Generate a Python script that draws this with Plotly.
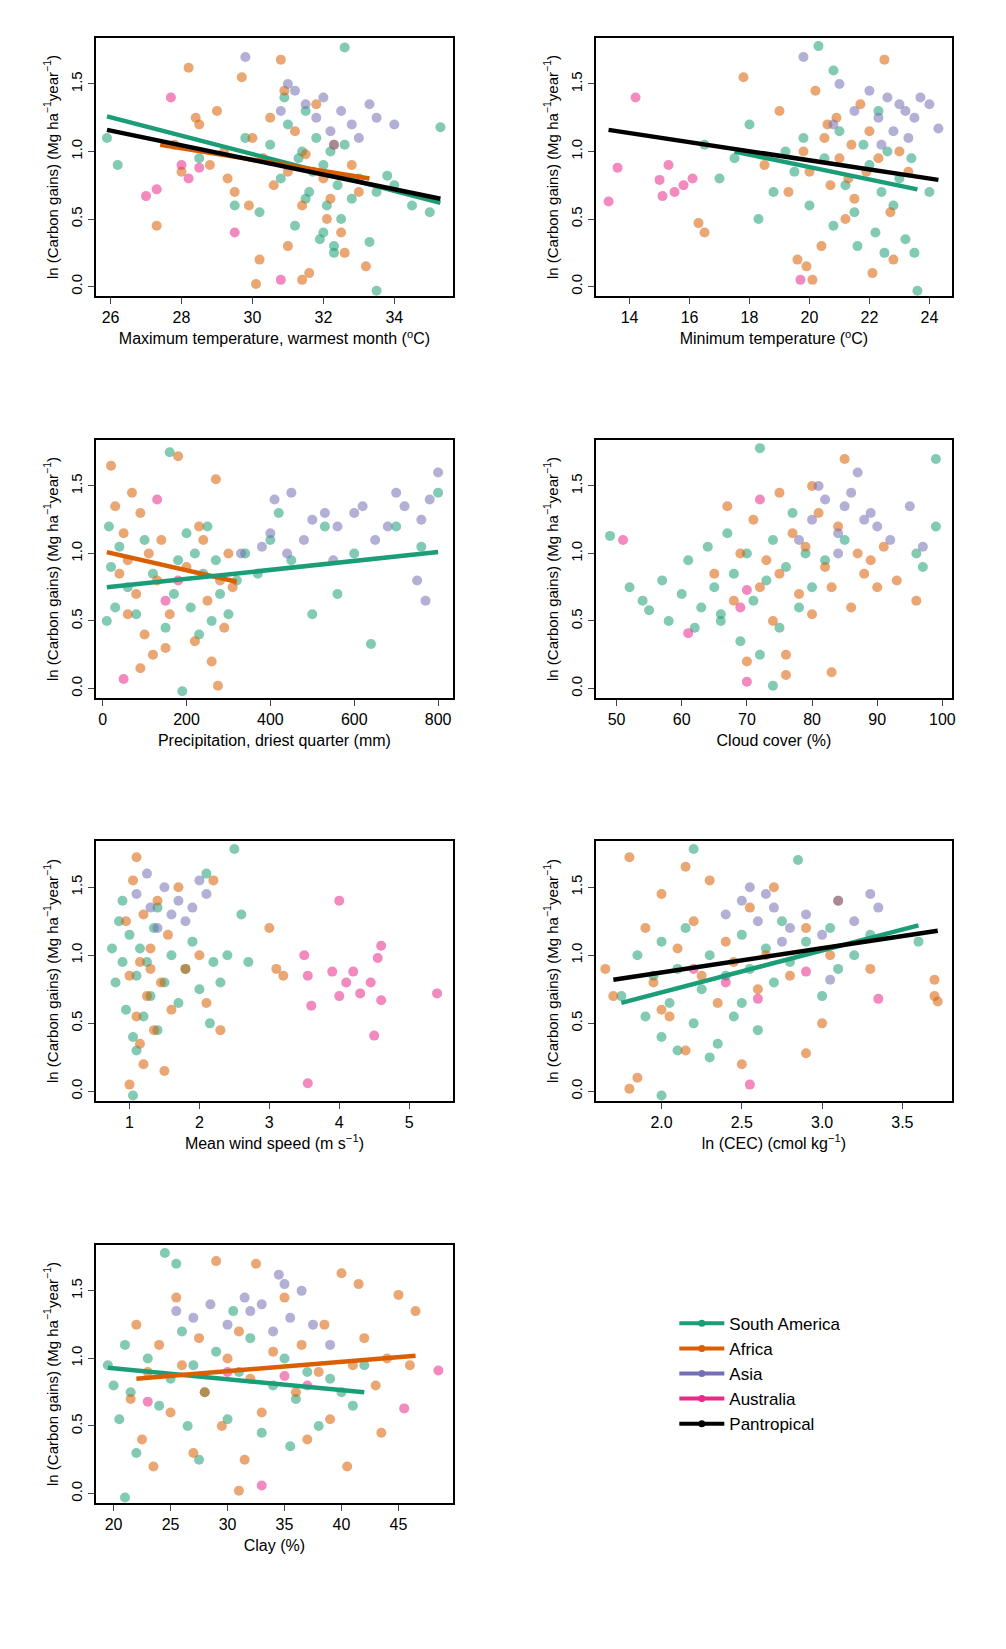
import plotly.graph_objects as go

# colours per region
COLS = {"South America": "#1B9E77", "Africa": "#D95F02", "Asia": "#7570B3",
        "Australia": "#E7298A", "Pantropical": "#000000"}

# ---- panel 1 : max temperature ----
p1_sa = [(25.9,1.10),(26.2,0.90),(28.5,0.95),(29.5,0.60),(30.2,0.55),(30.5,1.05),(30.8,0.80),(31.0,1.20),(31.2,0.45),(31.3,0.95),
         (31.5,1.30),(31.6,0.70),(31.8,1.10),(31.9,0.35),(32.0,0.90),(32.1,0.60),(32.2,1.00),(32.3,0.25),(32.4,0.75),(32.5,0.50),
         (32.6,1.05),(32.8,0.65),(33.0,0.80),(33.5,0.70),(34.0,0.75),(34.5,0.60),(35.0,0.55),(35.3,1.18),(31.4,1.00),(31.7,0.85),
         (32.0,0.40),(32.3,0.30),(29.8,1.10),(30.9,1.40),(33.8,0.82),(32.6,1.77),(31.5,0.65),(33.3,0.33),(33.5,-0.03)]
p1_af = [(27.3,0.45),(27.8,1.05),(28.0,0.85),(28.2,1.62),(28.5,1.20),(28.8,0.90),(29.0,1.30),(29.2,1.00),(29.5,0.70),(29.7,1.55),
         (30.0,1.10),(30.2,0.20),(30.3,0.95),(30.5,1.25),(30.6,0.75),(30.8,1.68),(31.0,0.85),(31.0,0.30),(31.2,1.15),(31.4,0.60),
         (31.5,0.98),(31.6,0.10),(31.8,1.35),(32.0,0.80),(32.1,0.50),(32.3,1.05),(32.5,0.40),(32.6,0.25),(32.8,0.90),(33.0,0.70),
         (33.2,0.15),(30.1,0.02),(31.4,0.05),(29.3,0.80),(28.4,1.25),(30.9,1.45),(29.9,0.60),(32.2,0.65)]
p1_as = [(30.8,1.30),(31.2,1.45),(31.5,1.35),(31.8,1.25),(32.0,1.40),(32.2,1.15),(32.5,1.30),(32.8,1.20),(33.0,1.10),(33.5,1.25),
         (34.0,1.20),(31.0,1.50),(32.3,1.05),(33.3,1.35),(29.8,1.70)]
p1_au = [(27.0,0.67),(27.3,0.72),(28.2,0.80),(28.5,0.88),(27.7,1.40),(29.5,0.40),(28.0,0.90),(30.8,0.05)]
p1_fit = {"South America": [(25.9,1.26),(35.3,0.62)], "Africa": [(27.4,1.05),(33.3,0.80)],
          "Pantropical": [(25.9,1.16),(35.3,0.65)]}

# ---- panel 2 : min temperature ----
p2_sa = [(16.5,1.05),(17.0,0.80),(17.5,0.95),(18.0,1.20),(18.3,0.50),(18.8,0.70),(19.2,1.00),(19.5,0.85),(19.8,1.10),(20.0,0.60),
         (20.3,1.78),(20.5,0.95),(20.8,0.45),(21.0,1.15),(21.2,0.75),(21.5,0.55),(21.8,1.05),(22.0,0.90),(22.2,0.40),(22.4,0.70),
         (22.5,0.25),(22.6,1.00),(22.8,0.60),(23.0,0.80),(23.2,0.35),(23.4,0.95),(23.5,0.25),(23.6,-0.03),(24.0,0.70),(22.3,1.30),
         (20.8,1.60),(21.6,0.30)]
p2_af = [(17.8,1.55),(18.5,0.90),(19.0,1.30),(19.3,0.70),(19.6,0.20),(19.8,1.00),(20.0,0.85),(20.2,1.45),(20.4,0.30),(20.5,1.10),
         (20.7,0.75),(20.9,1.25),(21.0,0.95),(21.2,0.50),(21.4,1.05),(21.5,0.65),(21.7,1.35),(21.9,0.85),(22.0,1.15),(22.1,0.10),
         (22.3,0.95),(22.5,1.68),(22.7,0.55),(22.8,0.20),(23.0,1.00),(23.3,0.85),(20.1,0.05),(19.9,0.15),(21.3,0.80),(20.6,1.20),
         (16.3,0.47),(16.5,0.40)]
p2_as = [(20.8,1.20),(21.5,1.30),(22.0,1.45),(22.3,1.25),(22.6,1.40),(22.8,1.15),(23.0,1.35),(23.2,1.30),(23.5,1.25),(23.7,1.40),
         (24.0,1.35),(24.3,1.17),(21.0,1.50),(19.8,1.70),(23.3,1.10),(22.4,1.05)]
p2_au = [(13.3,0.63),(13.6,0.88),(14.2,1.40),(15.0,0.79),(15.3,0.90),(15.5,0.70),(15.8,0.75),(15.1,0.67),(19.7,0.05),(16.1,0.80)]
p2_fit = {"South America": [(17.5,1.00),(23.6,0.72)], "Pantropical": [(13.3,1.16),(24.3,0.79)]}

# ---- panel 3 : precipitation driest quarter ----
p3_sa = [(10,0.50),(15,1.20),(20,0.90),(30,0.60),(40,1.05),(60,0.75),(80,0.55),(100,1.10),(120,0.85),(150,0.45),
         (160,1.75),(170,0.70),(180,0.95),(200,1.15),(210,0.60),(230,0.40),(240,0.85),(250,1.20),(260,0.50),(270,0.95),
         (280,0.70),(300,0.55),(320,0.80),(340,1.00),(370,0.85),(400,1.10),(450,0.95),(500,0.55),(530,1.20),(560,0.70),
         (600,1.00),(640,0.33),(700,1.20),(760,1.05),(800,1.45),(420,1.30),(190,-0.02),(220,1.00)]
p3_af = [(20,1.65),(30,1.35),(40,0.85),(50,1.15),(60,0.95),(70,1.45),(80,0.70),(90,1.30),(100,0.40),(110,1.00),
         (120,0.25),(130,0.80),(140,1.10),(160,0.55),(180,1.72),(200,0.90),(220,0.35),(240,1.10),(250,0.65),(260,0.20),
         (270,1.55),(280,0.80),(290,0.45),(300,1.00),(310,0.75),(275,0.02),(90,0.15),(150,0.30),(230,1.20),(60,0.55)]
p3_as = [(330,1.00),(380,1.05),(400,1.15),(410,1.40),(450,1.45),(480,1.10),(500,1.25),(530,1.30),(560,1.20),(600,1.30),
         (620,1.35),(650,1.10),(680,1.20),(700,1.45),(720,1.35),(750,0.80),(760,1.25),(780,1.40),(800,1.60),(770,0.65),
         (550,0.95),(440,1.00)]
p3_au = [(50,0.07),(150,0.65),(130,1.40),(180,0.80)]
p3_fit = {"Africa": [(10,1.01),(320,0.79)], "South America": [(10,0.75),(800,1.01)]}

# ---- panel 4 : cloud cover ----
p4_sa = [(49,1.13),(52,0.75),(54,0.65),(55,0.58),(57,0.80),(58,0.50),(60,0.70),(61,0.95),(62,0.45),(63,0.60),
         (64,1.05),(65,0.75),(66,0.55),(67,1.15),(68,0.85),(69,0.35),(70,1.00),(71,0.65),(72,0.25),(72,1.78),
         (73,0.80),(74,1.10),(75,0.45),(76,0.90),(77,1.30),(78,0.60),(79,1.00),(80,0.75),(82,0.95),(85,1.10),
         (96,1.00),(97,0.90),(99,1.20),(99,1.70),(74,0.02),(66,0.50)]
p4_af = [(65,0.85),(67,1.35),(68,0.65),(69,1.00),(70,0.20),(71,1.25),(72,0.75),(73,0.95),(74,0.50),(75,1.45),
         (75,0.85),(76,0.25),(77,1.15),(78,0.70),(79,1.05),(80,0.55),(81,1.30),(82,0.90),(83,0.75),(84,1.20),
         (85,1.70),(86,0.60),(87,1.00),(88,0.85),(90,0.75),(91,1.05),(93,0.80),(96,0.65),(83,0.12),(76,0.10),
         (80,1.50),(89,0.95)]
p4_as = [(78,1.10),(80,1.25),(82,1.40),(84,1.15),(85,1.35),(86,1.45),(88,1.25),(89,1.30),(90,1.20),(92,1.10),
         (95,1.35),(97,1.05),(81,1.50),(87,1.60),(84,1.00)]
p4_au = [(51,1.10),(61,0.41),(70,0.73),(70,0.05),(72,1.40),(69,0.60)]

# ---- panel 5 : wind speed ----
p5_sa = [(0.75,1.05),(0.8,0.80),(0.85,1.25),(0.9,0.95),(0.95,0.60),(1.0,1.15),(1.05,0.40),(1.1,0.85),(1.1,0.30),(1.15,1.05),
         (1.2,0.55),(1.25,0.95),(1.3,0.70),(1.35,1.20),(1.4,0.45),(1.5,0.80),(1.6,1.00),(1.7,0.65),(1.8,0.90),(1.9,1.10),
         (2.0,0.75),(2.1,1.60),(2.15,0.50),(2.2,0.95),(2.3,0.80),(2.4,1.00),(2.5,1.78),(2.6,1.30),(2.7,0.95),(1.05,-0.03),
         (1.4,1.35),(0.9,1.40)]
p5_af = [(0.95,1.25),(1.0,0.85),(1.05,1.55),(1.1,0.55),(1.1,1.72),(1.15,0.95),(1.2,0.20),(1.2,1.30),(1.25,0.70),(1.3,1.05),
         (1.35,0.45),(1.4,1.40),(1.45,0.80),(1.5,0.15),(1.55,1.15),(1.6,0.60),(1.7,1.50),(1.8,0.90),(2.0,1.00),(2.1,0.65),
         (2.2,1.55),(2.3,0.45),(1.0,0.05),(1.15,0.35),(3.0,1.20),(3.1,0.90),(3.2,0.85),(1.3,0.90)]
p5_as = [(1.1,1.45),(1.3,1.35),(1.5,1.50),(1.6,1.30),(1.7,1.40),(1.8,1.25),(1.9,1.35),(2.0,1.55),(2.1,1.45),(1.4,1.20),(1.25,1.60)]
p5_au = [(3.5,1.00),(3.55,0.85),(3.6,0.63),(3.9,0.88),(4.0,0.70),(4.0,1.40),(4.1,0.80),(4.3,0.72),(4.45,0.80),(4.5,0.41),
         (4.55,0.98),(4.6,0.67),(4.6,1.07),(5.4,0.72),(3.55,0.06),(4.2,0.88)]

# ---- panel 6 : ln(CEC) ----
p6_sa = [(1.75,0.70),(1.85,1.00),(1.9,0.55),(1.95,0.85),(2.0,0.40),(2.0,1.10),(2.05,0.65),(2.1,0.30),(2.1,0.90),(2.15,1.20),
         (2.2,0.50),(2.25,0.75),(2.3,1.00),(2.35,0.35),(2.4,0.85),(2.45,0.55),(2.5,1.15),(2.5,0.65),(2.55,0.90),(2.6,0.45),
         (2.65,1.05),(2.7,0.80),(2.75,1.25),(2.8,0.95),(2.9,1.10),(3.0,0.70),(3.05,1.20),(3.1,0.90),(3.2,1.00),(3.3,1.15),
         (3.6,1.10),(2.0,-0.03),(2.2,1.78),(2.85,1.70),(2.3,0.25)]
p6_af = [(1.65,0.90),(1.7,0.70),(1.8,1.72),(1.85,0.10),(1.9,1.20),(1.95,0.80),(2.0,1.45),(2.05,0.55),(2.1,1.05),(2.15,0.30),
         (2.2,1.25),(2.25,0.85),(2.3,1.55),(2.35,0.65),(2.4,1.10),(2.45,0.95),(2.5,0.20),(2.55,1.35),(2.6,0.75),(2.65,1.00),
         (2.7,1.50),(2.8,0.85),(2.9,1.20),(3.0,0.50),(3.05,1.00),(3.1,1.40),(3.3,0.90),(3.7,0.82),(3.7,0.70),(3.72,0.66),
         (1.8,0.02),(2.15,1.65),(2.0,0.60),(2.9,0.28)]
p6_as = [(2.4,1.30),(2.5,1.40),(2.6,1.25),(2.65,1.45),(2.7,1.35),(2.8,1.20),(2.9,1.30),(3.0,1.15),(3.05,0.82),(3.1,1.40),
         (3.2,1.25),(3.3,1.45),(3.35,1.35),(2.75,1.10),(2.55,1.50)]
p6_au = [(2.6,0.68),(2.55,0.05),(2.9,0.88),(3.35,0.68),(2.2,0.90),(2.4,0.80)]
p6_fit = {"South America": [(1.75,0.65),(3.6,1.22)], "Pantropical": [(1.7,0.82),(3.72,1.18)]}

# ---- panel 7 : clay ----
p7_sa = [(19.5,0.95),(20,0.80),(20.5,0.55),(21,1.10),(21,-0.03),(21.5,0.75),(22,0.30),(23,1.00),(24,0.65),(24.5,1.78),
         (25,0.85),(26,1.20),(26.5,0.50),(27,0.95),(27.5,0.25),(28,0.75),(29,1.05),(30,0.55),(31,0.90),(32,1.15),
         (33,0.45),(34,0.80),(35,1.00),(35.5,0.35),(36,0.70),(37,0.90),(38,0.50),(39,0.85),(40,0.75),(41,0.65),
         (42,0.95),(25.5,1.70),(30.5,1.35)]
p7_af = [(21.5,0.70),(22,1.25),(22.5,0.40),(23,0.90),(23.5,0.20),(24,1.10),(25,0.60),(25.5,1.45),(26,0.95),(27,0.30),
         (27.5,1.15),(28,0.75),(29,1.72),(29.5,0.50),(30,1.00),(31,1.20),(31.5,0.25),(32,0.85),(32.5,1.70),(33,0.60),
         (34,1.05),(35,1.45),(36,0.75),(36.5,1.10),(37,0.40),(38,0.90),(38.5,1.25),(39,0.55),(40,1.63),(40.5,0.20),
         (41,0.95),(41.5,1.55),(42,1.15),(43,0.80),(44,1.00),(45,1.47),(46,0.95),(46.5,1.35),(43.5,0.45),(31,0.02)]
p7_as = [(25.5,1.35),(27,1.30),(28.5,1.40),(30,1.25),(31.5,1.45),(32,1.35),(33,1.40),(34,1.20),(35,1.55),(35.5,1.30),
         (36.5,1.50),(37.5,1.25),(39,1.10),(34.5,1.62)]
p7_au = [(23,0.68),(33,0.06),(35,0.87),(37,0.80),(45.5,0.63),(48.5,0.91),(30,0.90)]
p7_fit = {"South America": [(19.5,0.93),(42,0.75)], "Africa": [(22,0.85),(46.5,1.02)]}

panels = [
    (p1_sa, p1_af, p1_as, p1_au, p1_fit, "Maximum temperature, warmest month (<sup>o</sup>C)", [25.58, 35.66], [26, 28, 30, 32, 34]),
    (p2_sa, p2_af, p2_as, p2_au, p2_fit, "Minimum temperature (<sup>o</sup>C)", [12.87, 24.76], [14, 16, 18, 20, 22, 24]),
    (p3_sa, p3_af, p3_as, p3_au, p3_fit, "Precipitation, driest quarter (mm)", [-16.6, 836], [0, 200, 400, 600, 800]),
    (p4_sa, p4_af, p4_as, p4_au, {}, "Cloud cover (%)", [46.8, 101.5], [50, 60, 70, 80, 90, 100]),
    (p5_sa, p5_af, p5_as, p5_au, {}, "Mean wind speed (m s<sup>−1</sup>)", [0.516, 5.63], [1, 2, 3, 4, 5]),
    (p6_sa, p6_af, p6_as, p6_au, p6_fit, "ln (CEC) (cmol kg<sup>−1</sup>)", [1.59, 3.81], [2.0, 2.5, 3.0, 3.5]),
    (p7_sa, p7_af, p7_as, p7_au, p7_fit, "Clay (%)", [18.43, 49.8], [20, 25, 30, 35, 40, 45]),
]

xdom = [[0.0875, 0.4443], [0.5865, 0.9423]]
ydom = [[0.8253, 0.9818], [0.5816, 0.7380], [0.3372, 0.4949], [0.0934, 0.2499]]
YTITLE = "ln (Carbon gains) (Mg ha<sup>−1</sup>year<sup>−1</sup>)"

fig = go.Figure()
layout = {}
for i, (sa, af, asi, au, fit, xt, xr, xt_vals) in enumerate(panels):
    n = i + 1
    xa, ya = ("x%d" % n if n > 1 else "x"), ("y%d" % n if n > 1 else "y")
    for name, pts in [("South America", sa), ("Africa", af), ("Asia", asi), ("Australia", au)]:
        fig.add_trace(go.Scatter(x=[p[0] for p in pts], y=[p[1] for p in pts], mode="markers",
                                 marker=dict(color=COLS[name], size=10, opacity=0.55, line=dict(width=0)),
                                 xaxis=xa, yaxis=ya, showlegend=False))
    for name, pts in fit.items():
        fig.add_trace(go.Scatter(x=[p[0] for p in pts], y=[p[1] for p in pts], mode="lines",
                                 line=dict(color=COLS[name], width=4.5),
                                 xaxis=xa, yaxis=ya, showlegend=False))
    ax = dict(domain=xdom[i % 2], range=xr, tickvals=xt_vals, ticktext=[str(v) for v in xt_vals],
              anchor=ya, tickfont=dict(size=16),
              title=dict(text=xt, standoff=8, font=dict(size=16)), showline=True, mirror=True, linecolor="black",
              linewidth=1.5, ticks="outside", ticklen=6, showgrid=False, zeroline=False)
    ay = dict(domain=ydom[i // 2], range=[-0.07, 1.84], tickvals=[0, 0.5, 1.0, 1.5],
              ticktext=["0.0", "0.5", "1.0", "1.5"], tickangle=-90, anchor=xa, tickfont=dict(size=15),
              title=dict(text=YTITLE, standoff=6, font=dict(size=15)), showline=True, mirror=True, linecolor="black",
              linewidth=1.5, ticks="outside", ticklen=6, showgrid=False, zeroline=False)
    layout["xaxis%s" % (n if n > 1 else "")] = ax
    layout["yaxis%s" % (n if n > 1 else "")] = ay

# legend entries
for name in ["South America", "Africa", "Asia", "Australia", "Pantropical"]:
    fig.add_trace(go.Scatter(x=[None], y=[None], mode="lines+markers", name=name,
                             line=dict(color=COLS[name], width=4), marker=dict(color=COLS[name], size=7),
                             xaxis="x7", yaxis="y7"))

fig.update_layout(**layout)
fig.update_layout(width=1006, height=1649, margin=dict(l=0, r=0, t=0, b=0),
                  plot_bgcolor="white", paper_bgcolor="white",
                  font=dict(family="Liberation Sans, Arial", size=15, color="black"),
                  legend=dict(x=0.665, y=0.213, xanchor="left", yanchor="top", font=dict(size=17),
                              bgcolor="rgba(0,0,0,0)", itemwidth=45, tracegroupgap=0))
fig.write_html("out.html")
